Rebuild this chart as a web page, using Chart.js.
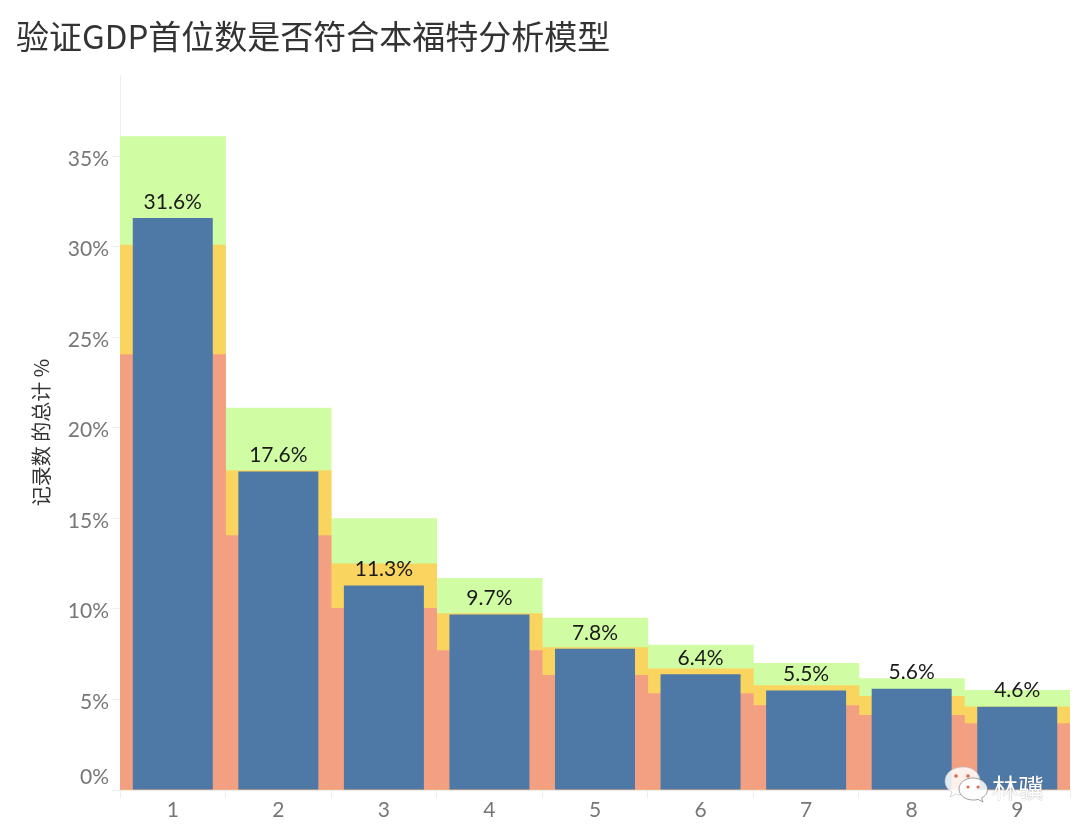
<!DOCTYPE html>
<html lang="zh">
<head>
<meta charset="utf-8">
<style>
html,body{margin:0;padding:0;background:#fff;width:1080px;height:834px;overflow:hidden}
#wrap{position:relative;width:1080px;height:834px}
canvas{display:block}
#mark{position:absolute;left:944px;top:764px;width:104px;height:42px;font:26px "Noto Sans CJK SC",sans-serif;color:#fff}
#mark svg{position:absolute;left:0;top:0}
#mark span{position:absolute;left:48px;top:6px;line-height:34px;text-shadow:0 0 1px rgba(80,80,80,.7)}
</style>
<script src="https://cdn.jsdelivr.net/npm/chart.js@4"></script>
</head>
<body>
<div id="wrap">
<canvas id="c" width="1080" height="834"></canvas>
<div id="mark">
<svg width="48" height="42" viewBox="0 0 48 42">
<path d="M19 3C9 3 1 9 1 17c0 5 3 9 7 11l-2 5 6-3c2 .6 4 1 7 1 10 0 17-6 17-14S29 3 19 3z" fill="#fff" fill-opacity=".85" stroke="#bbb" stroke-width=".6"/>
<path d="M29 14c-8 0-14 5-14 11s6 11 14 11c2 0 3 0 5-.6l5 2.600-1.500-4c4-2 6-5 6-9 0-6-7-11-14.500-11z" fill="#fff" fill-opacity=".85" stroke="#888" stroke-width=".8"/>
<circle cx="12" cy="12" r="1.800" fill="#d9694c"/><circle cx="24" cy="12" r="1.800" fill="#d9694c"/>
<circle cx="24" cy="23" r="1.500" fill="#d9694c"/><circle cx="34" cy="23" r="1.500" fill="#d9694c"/>
</svg>
<span>林骥</span>
</div>
</div>
<script>
const titleText = "验证GDP首位数是否符合本福特分析模型";
const yAxisTitle = "记录数 的总计 %";
const categories = ["1","2","3","4","5","6","7","8","9"];
const actual = [31.6,17.6,11.3,9.7,7.8,6.4,5.5,5.6,4.6];
const bandUpper = [36.1,21.1,15.0,11.7,9.5,8.0,7.0,6.16,5.5];
const bandMiddle = [30.1,17.65,12.5,9.75,7.87,6.7,5.77,5.17,4.6];
const bandLower = [24.05,14.06,10.03,7.7,6.33,5.33,4.67,4.12,3.67];
const yTicksStep = 5;

const valueLabels = {
  id:"valueLabels",
  afterDatasetsDraw(chart){
    const {ctx,scales:{x,y}} = chart;
    ctx.save();
    ctx.font = '21px Lato, sans-serif';
    ctx.fillStyle = '#1a1a1a';
    ctx.textAlign = 'center';
    ctx.textBaseline = 'middle';
    actual.forEach((v,i)=>{
      ctx.fillText(v.toFixed(1)+'%', x.getPixelForValue(i), y.getPixelForValue(v)-16);
    });
    ctx.restore();
  }
};

new Chart(document.getElementById('c'),{
  type:'bar',
  plugins:[valueLabels],
  data:{
    labels:categories,
    datasets:[
      {label:'actual',data:actual,backgroundColor:'#4e79a7',order:1,barPercentage:0.758,categoryPercentage:1},
      {label:'lower',data:bandLower,backgroundColor:'#f3a082',order:2,barPercentage:1,categoryPercentage:1},
      {label:'middle',data:bandMiddle,backgroundColor:'#f9d55f',order:3,barPercentage:1,categoryPercentage:1},
      {label:'upper',data:bandUpper,backgroundColor:'#d0fda3',order:4,barPercentage:1,categoryPercentage:1}
    ]
  },
  options:{
    responsive:false,
    animation:false,
    devicePixelRatio:1,
    layout:{padding:{left:16,right:10,top:0,bottom:0}},
    datasets:{bar:{grouped:false,borderWidth:0}},
    plugins:{
      legend:{display:false},
      tooltip:{enabled:false},
      title:{
        display:true,text:titleText,align:'start',color:'#333',
        font:{family:'"Noto Sans CJK SC", sans-serif',size:33,weight:'normal',lineHeight:1.2},
        padding:{top:17,bottom:18.4}
      }
    },
    scales:{
      x:{
        grid:{offset:true,drawOnChartArea:false,color:'#eeeeee',tickLength:8},
        border:{color:'#eeeeee'},
        ticks:{color:'#777',font:{family:'Lato, sans-serif',size:21},padding:0,maxRotation:0},
        afterFit(s){s.height=44;}
      },
      y:{
        min:0,max:39.5,
        grid:{drawOnChartArea:false,color:'#eeeeee',tickLength:8},
        border:{color:'#eeeeee'},
        ticks:{
          stepSize:yTicksStep,includeBounds:false,color:'#777',padding:3,
          font(c){return {family:'Lato, sans-serif',size:21,lineHeight:c.tick&&c.tick.value===0?1.25:0.24};},
          callback(v){return v===0?['0%','']:['',v+'%'];}
        },
        title:{
          display:true,text:yAxisTitle,color:'#333',
          font:{family:'"Noto Sans CJK SC", sans-serif',size:20,weight:'normal',lineHeight:1.2},
          padding:{top:13,bottom:0}
        },
        afterFit(s){s.width=104;}
      }
    }
  }
});
</script>
</body>
</html>
